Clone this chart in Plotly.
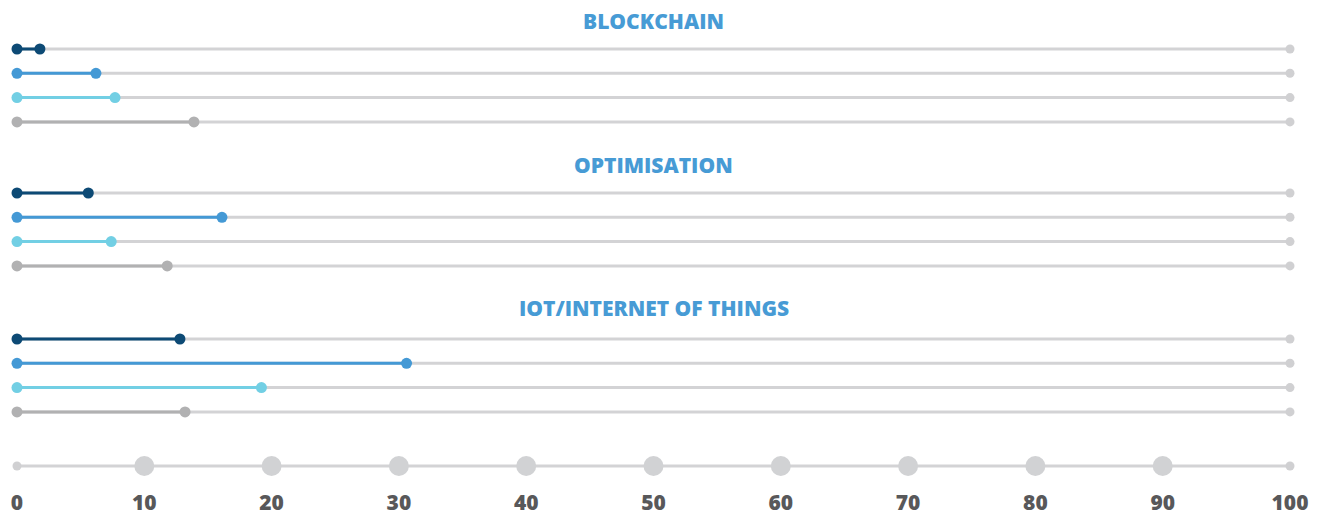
import plotly.graph_objects as go

# Survey groups and the four series shown in each group (percent)
groups = ["BLOCKCHAIN", "OPTIMISATION", "IOT/INTERNET OF THINGS"]
series_names = ["Series A", "Series B", "Series C", "Series D"]
blockchain = [1.8, 6.2, 7.7, 13.9]
optimisation = [5.6, 16.1, 7.4, 11.8]
iot = [12.8, 30.6, 19.2, 13.2]
values = [blockchain, optimisation, iot]

tick_values = [0, 10, 20, 30, 40, 50, 60, 70, 80, 90, 100]
tick_labels = ["0", "10", "20", "30", "40", "50", "60", "70", "80", "90", "100"]

colors = ["#0d4a75", "#4499d5", "#72cfe4", "#b1b1b2"]
track_color = "#d3d3d5"
title_color = "#479bd5"
label_color = "#58585a"
font_family = "Open Sans"

W, H = 1325, 517
group_title_y = [21, 165, 308]
group_first_row_y = [49, 193, 339]
row_gap = 24.3
axis_row_y = 466
tick_label_y = 505

fig = go.Figure()

for g, name in enumerate(groups):
    for i, v in enumerate(values[g]):
        y = group_first_row_y[g] + i * row_gap
        # full-length track with end dots
        fig.add_trace(go.Scatter(
            x=[0, 100], y=[y, y], mode="lines+markers",
            line=dict(color=track_color, width=3),
            marker=dict(color="#d0d0d2", size=9),
            hoverinfo="skip", showlegend=False))
        # value segment
        fig.add_trace(go.Scatter(
            x=[0, v], y=[y, y], mode="lines+markers",
            line=dict(color=colors[i], width=3),
            marker=dict(color=colors[i], size=11),
            name=series_names[i], showlegend=False,
            hovertemplate=name + ": %{x}<extra></extra>"))
    fig.add_annotation(
        x=50, y=group_title_y[g], text=name, showarrow=False,
        font=dict(family=font_family, size=21, color=title_color, weight=800),
        xanchor="center", yanchor="middle")

# scale row
fig.add_trace(go.Scatter(
    x=[tick_values[0], tick_values[-1]], y=[axis_row_y, axis_row_y],
    mode="lines+markers", line=dict(color=track_color, width=3),
    marker=dict(color="#d0d0d2", size=9),
    hoverinfo="skip", showlegend=False))
fig.add_trace(go.Scatter(
    x=tick_values[1:-1], y=[axis_row_y] * (len(tick_values) - 2),
    mode="markers", marker=dict(color="#d1d2d4", size=20),
    hoverinfo="skip", showlegend=False))
# tick labels as a text trace under the scale row
fig.add_trace(go.Scatter(
    x=tick_values, y=[tick_label_y] * len(tick_values),
    mode="text", text=tick_labels,
    textfont=dict(family=font_family, size=21, color=label_color, weight=800),
    hoverinfo="skip", showlegend=False))

px_per_unit = (1290 - 17) / 100
x0 = -17 / px_per_unit
x1 = 100 + (W - 1290) / px_per_unit

fig.update_layout(
    width=W, height=H,
    margin=dict(l=0, r=0, t=0, b=0),
    paper_bgcolor="white", plot_bgcolor="white",
    xaxis=dict(range=[x0, x1], visible=False, fixedrange=True),
    yaxis=dict(range=[H, 0], visible=False, fixedrange=True),
)

fig.write_html("out.html")
